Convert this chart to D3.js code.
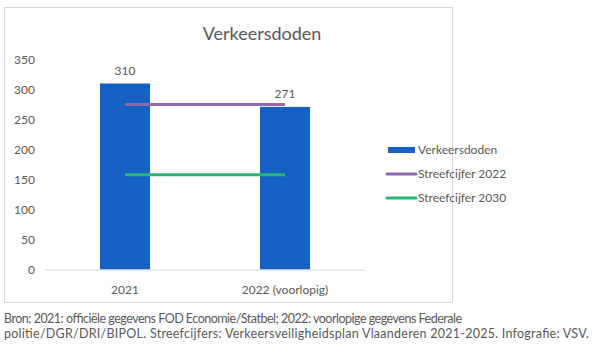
<!DOCTYPE html>
<html>
<head>
<meta charset="utf-8">
<script src="https://cdn.jsdelivr.net/npm/d3@7"></script>
<style>
  body { margin: 0; background: #fff; }
  svg text { font-family: Lato, "Open Sans", sans-serif; fill: #595959; }
</style>
</head>
<body>
<div id="chart"></div>
<script>
// data
const categories = ['2021', '2022 (voorlopig)'];
const deaths = [310, 271];
const target2022 = [275, 275];
const target2030 = [158, 158];
const yTicks = [0, 50, 100, 150, 200, 250, 300, 350];
const legendLabels = ['Verkeersdoden', 'Streefcijfer 2022', 'Streefcijfer 2030'];
const footer = [
  'Bron: 2021: officiële gegevens FOD Economie/Statbel; 2022: voorlopige gegevens Federale',
  'politie/DGR/DRI/BIPOL. Streefcijfers: Verkeersveiligheidsplan Vlaanderen 2021-2025. Infografie: VSV.'
];

const BLUE = '#1561c4';
const PURPLE = '#8e6aab';
const GREEN = '#2bb673';

const svg = d3.select('#chart').append('svg')
  .attr('width', 600)
  .attr('height', 360)

// chart frame
svg.append('rect')
  .attr('x', 4.5).attr('y', 7.5)
  .attr('width', 448).attr('height', 295)
  .attr('fill', 'none')
  .attr('stroke', '#d9d9d9')

svg.append('text')
  .attr('x', 262).attr('y', 40)
  .attr('text-anchor', 'middle')
  .style('font-size', '18px')
  .text('Verkeersdoden')

const x = d3.scaleBand()
  .domain(categories)
  .range([45, 365])
  .paddingInner(0.6875)
  .paddingOuter(0.34375)

const y = d3.scaleLinear()
  .domain([0, 350])
  .range([269.5, 59.5])

// y tick labels (no axis line)
const yAxis = svg.append('g')
  .attr('transform', 'translate(35,0)')
  .call(d3.axisLeft(y).tickValues(yTicks).tickSize(0).tickPadding(0))
yAxis.select('.domain').remove()
yAxis.selectAll('text').style('font-size', '12px').attr('fill', '#595959')

// bars
svg.selectAll('rect.bar')
  .data(deaths)
  .enter().append('rect')
    .attr('class', 'bar')
    .attr('x', (d, i) => x(categories[i]))
    .attr('y', d => y(d))
    .attr('width', x.bandwidth())
    .attr('height', d => y(0) - y(d))
    .attr('fill', BLUE)

// x axis
const xAxis = svg.append('g')
  .attr('transform', `translate(0,${y(0)})`)
  .call(d3.axisBottom(x).tickSize(0).tickPadding(16))
xAxis.select('.domain').attr('stroke', '#d9d9d9')
xAxis.selectAll('text').style('font-size', '12px').attr('fill', '#595959')

// target lines
const cx = c => x(c) + x.bandwidth() / 2
const line = d3.line()
  .x((d, i) => cx(categories[i]))
  .y(d => y(d))

svg.append('path')
  .datum(target2022)
  .attr('d', line)
  .attr('fill', 'none')
  .attr('stroke', PURPLE)
  .attr('stroke-width', 3)

svg.append('path')
  .datum(target2030)
  .attr('d', line)
  .attr('fill', 'none')
  .attr('stroke', GREEN)
  .attr('stroke-width', 3)

// data labels
svg.selectAll('text.lbl')
  .data(deaths)
  .enter().append('text')
    .attr('class', 'lbl')
    .attr('x', (d, i) => cx(categories[i]))
    .attr('y', d => y(d) - 9)
    .attr('text-anchor', 'middle')
    .style('font-size', '12px')
    .text(d => d)

// legend
const legend = svg.append('g')
legendLabels.forEach((lab, i) => {
  const ly = 150 + i * 24
  if (i === 0) {
    legend.append('rect')
      .attr('x', 388).attr('y', ly - 3)
      .attr('width', 27).attr('height', 6)
      .attr('fill', BLUE)
  } else {
    legend.append('line')
      .attr('x1', 387).attr('x2', 416)
      .attr('y1', ly).attr('y2', ly)
      .attr('stroke', i === 1 ? PURPLE : GREEN)
      .attr('stroke-width', 3)
      .attr('stroke-linecap', 'round')
  }
  legend.append('text')
    .attr('x', 418).attr('y', ly + 4)
    .style('font-size', '12px')
    .text(lab)
})

// footer (spaced out to the widths of the original lines)
const footWidths = [458, 585]
svg.selectAll('text.foot')
  .data(footer)
  .enter().append('text')
    .attr('class', 'foot')
    .attr('x', 4)
    .attr('y', (d, i) => 323 + i * 15)
    .attr('textLength', (d, i) => footWidths[i])
    .attr('lengthAdjust', 'spacing')
    .style('font-size', '12.5px')
    .text(d => d)
</script>
</body>
</html>
